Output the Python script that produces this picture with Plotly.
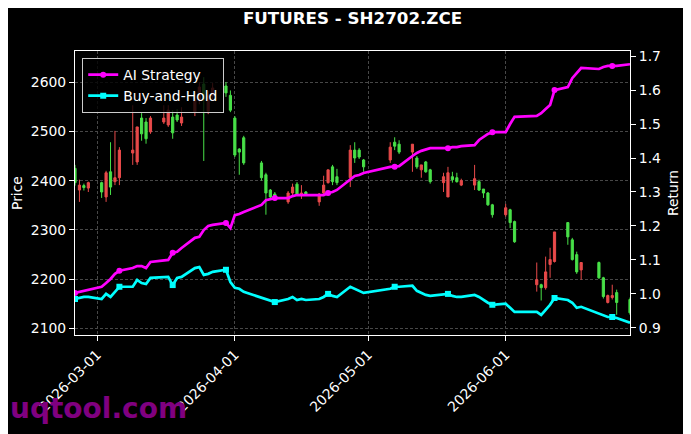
import plotly.graph_objects as go
from plotly.subplots import make_subplots

dates = [
    "2026-02-24", "2026-02-25", "2026-02-26", "2026-02-27",
    "2026-03-02", "2026-03-03", "2026-03-04", "2026-03-05", "2026-03-06",
    "2026-03-09", "2026-03-10", "2026-03-11", "2026-03-12", "2026-03-13",
    "2026-03-16", "2026-03-17", "2026-03-18", "2026-03-19", "2026-03-20",
    "2026-03-23", "2026-03-24", "2026-03-25", "2026-03-26", "2026-03-27",
    "2026-03-30", "2026-03-31", "2026-04-01", "2026-04-02", "2026-04-03",
    "2026-04-07", "2026-04-08", "2026-04-09", "2026-04-10",
    "2026-04-13", "2026-04-14", "2026-04-15", "2026-04-16", "2026-04-17",
    "2026-04-20", "2026-04-21", "2026-04-22", "2026-04-23", "2026-04-24",
    "2026-04-27", "2026-04-28", "2026-04-29", "2026-04-30",
    "2026-05-06", "2026-05-07", "2026-05-08",
    "2026-05-11", "2026-05-12", "2026-05-13", "2026-05-14", "2026-05-15",
    "2026-05-18", "2026-05-19", "2026-05-20", "2026-05-21", "2026-05-22",
    "2026-05-25", "2026-05-26", "2026-05-27", "2026-05-28", "2026-05-29",
    "2026-06-01", "2026-06-02", "2026-06-03",
    "2026-06-08", "2026-06-09", "2026-06-10", "2026-06-11", "2026-06-12",
    "2026-06-15", "2026-06-16", "2026-06-17", "2026-06-18",
    "2026-06-22", "2026-06-23", "2026-06-24", "2026-06-25", "2026-06-26",
    "2026-06-29",
]

open_p = [2425, 2381, 2390, 2385, 2396, 2367, 2418, 2398, 2406, 2456,
          2438, 2527, 2519, 2499, 2519, 2513, 2529, 2533, 2517, 2539,
          2563, 2596, 2541, 2572, 2592, 2573, 2527, 2464, 2487, 2436,
          2412, 2381, 2373, 2357, 2375, 2393, 2371, 2377, 2357, 2375,
          2396, 2428, 2408, 2406, 2462, 2462, 2442, 2442, 2478, 2474,
          2458, 2446, 2422, 2438, 2422, 2396, 2367, 2408, 2406, 2391,
          2391, 2398, 2383, 2375, 2351, 2331, 2341, 2317, 2189, 2189,
          2183, 2230, 2236, 2315, 2280, 2250, 2219, 2234, 2203, 2153,
          2163, 2173, 2159]
high_p = [2432, 2402, 2394, 2398, 2398, 2420, 2478, 2501, 2468, 2553,
          2509, 2537, 2527, 2531, 2553, 2553, 2543, 2545, 2549, 2580,
          2600, 2610, 2582, 2598, 2600, 2583, 2531, 2466, 2491, 2440,
          2416, 2383, 2377, 2379, 2394, 2397, 2391, 2379, 2375, 2410,
          2422, 2432, 2424, 2472, 2478, 2466, 2444, 2478, 2488, 2482,
          2474, 2450, 2432, 2440, 2424, 2416, 2428, 2418, 2416, 2404,
          2432, 2402, 2383, 2377, 2353, 2353, 2343, 2319, 2234, 2191,
          2246, 2264, 2296, 2315, 2284, 2256, 2234, 2236, 2205, 2169,
          2189, 2179, 2163]
low_p = [2390, 2357, 2380, 2377, 2365, 2357, 2371, 2391, 2391, 2432,
         2432, 2481, 2475, 2495, 2515, 2509, 2485, 2519, 2511, 2531,
         2555, 2440, 2535, 2565, 2570, 2539, 2448, 2412, 2432, 2400,
         2331, 2361, 2365, 2353, 2371, 2369, 2363, 2369, 2349, 2369,
         2394, 2391, 2391, 2387, 2436, 2444, 2418, 2436, 2462, 2454,
         2418, 2424, 2406, 2416, 2394, 2377, 2367, 2396, 2396, 2389,
         2381, 2379, 2365, 2349, 2325, 2327, 2304, 2274, 2175, 2157,
         2179, 2203, 2234, 2270, 2238, 2211, 2199, 2201, 2161, 2151,
         2159, 2128, 2128]
close_p = [2396, 2391, 2386, 2396, 2377, 2416, 2387, 2406, 2462, 2462,
           2509, 2495, 2485, 2527, 2527, 2543, 2497, 2523, 2529, 2563,
           2590, 2565, 2572, 2588, 2578, 2543, 2452, 2458, 2436, 2406,
           2375, 2367, 2369, 2375, 2387, 2371, 2375, 2371, 2373, 2391,
           2422, 2398, 2396, 2462, 2446, 2448, 2428, 2468, 2470, 2458,
           2474, 2428, 2432, 2418, 2398, 2408, 2416, 2402, 2398, 2400,
           2404, 2381, 2375, 2351, 2331, 2345, 2315, 2276, 2199, 2183,
           2215, 2240, 2296, 2286, 2240, 2215, 2234, 2203, 2165, 2167,
           2167, 2153, 2132]

ai_strategy = [1.003, 1.006, 1.009, 1.012, 1.021, 1.032, 1.044, 1.059, 1.068, 1.076,
               1.082, 1.082, 1.076, 1.094, 1.097, 1.100, 1.121, 1.124, 1.135, 1.165,
               1.168, 1.188, 1.200, 1.203, 1.209, 1.194, 1.232, 1.235, 1.241, 1.262,
               1.276, 1.279, 1.282, 1.282, 1.288, 1.291, 1.291, 1.291, 1.291, 1.291,
               1.297, 1.300, 1.306, 1.338, 1.347, 1.350, 1.356, 1.374, 1.374, 1.376,
               1.406, 1.415, 1.421, 1.426, 1.429, 1.429, 1.429, 1.432, 1.432, 1.435,
               1.438, 1.453, 1.462, 1.471, 1.476, 1.476, 1.500, 1.521, 1.524, 1.532,
               1.544, 1.556, 1.600, 1.609, 1.635, 1.650, 1.665, 1.662, 1.668, 1.671,
               1.671, 1.671, 1.676]
buy_hold = [0.985, 0.988, 0.991, 0.991, 0.985, 1.000, 0.991, 1.006, 1.021, 1.021,
            1.041, 1.032, 1.029, 1.047, 1.050, 1.050, 1.026, 1.047, 1.050, 1.076,
            1.079, 1.056, 1.059, 1.065, 1.071, 1.035, 1.018, 1.015, 1.006, 0.988,
            0.985, 0.979, 0.976, 0.985, 0.991, 0.982, 0.985, 0.982, 0.985, 0.991,
            1.000, 0.994, 0.991, 1.021, 1.015, 1.009, 1.003, 1.015, 1.021, 1.021,
            1.024, 1.009, 1.003, 0.997, 0.994, 0.997, 1.000, 0.994, 0.991, 0.991,
            0.997, 0.991, 0.982, 0.974, 0.968, 0.971, 0.959, 0.947, 0.947, 0.938,
            0.953, 0.968, 0.988, 0.982, 0.974, 0.959, 0.962, 0.941, 0.935, 0.932,
            0.932, 0.929, 0.915]

price_ticks = [2100, 2200, 2300, 2400, 2500, 2600]
return_ticks = [0.9, 1.0, 1.1, 1.2, 1.3, 1.4, 1.5, 1.6, 1.7]
month_ticks = ["2026-03-01", "2026-04-01", "2026-05-01", "2026-06-01"]
MARK_EVERY = 8

RED = "#e84a4a"
GREEN = "#48e048"
MAGENTA = "#ff00ff"
CYAN = "#00ffff"
FONT = "DejaVu Sans"
GRID = "#474747"

fig = make_subplots(specs=[[{"secondary_y": True}]])

fig.add_trace(go.Candlestick(
    x=dates, open=open_p, high=high_p, low=low_p, close=close_p,
    increasing=dict(line=dict(color=RED, width=1), fillcolor=RED),
    decreasing=dict(line=dict(color=GREEN, width=1), fillcolor=GREEN),
    whiskerwidth=0, showlegend=False, name="Price",
), secondary_y=False)

series = [("AI Strategy", ai_strategy, MAGENTA, "circle"),
          ("Buy-and-Hold", buy_hold, CYAN, "square")]
for name, vals, col, sym in series:
    fig.add_trace(go.Scatter(
        x=dates, y=vals, mode="lines", line=dict(color=col, width=2.7),
        showlegend=False, legendgroup=name, name=name,
    ), secondary_y=True)
    fig.add_trace(go.Scatter(
        x=dates[::MARK_EVERY], y=vals[::MARK_EVERY], mode="markers",
        marker=dict(color=col, size=6, symbol=sym),
        showlegend=False, legendgroup=name, name=name,
    ), secondary_y=True)
for name, vals, col, sym in series:
    fig.add_trace(go.Scatter(
        x=[None], y=[None], mode="lines+markers",
        line=dict(color=col, width=2.7),
        marker=dict(color=col, size=6, symbol=sym),
        showlegend=True, legendgroup=name, name=name,
    ), secondary_y=True)

axis_common = dict(
    showline=True, linecolor="white", linewidth=1.1, mirror=True,
    ticks="outside", ticklen=5, tickwidth=1.1, tickcolor="white",
    tickfont=dict(color="white", size=13.9, family=FONT),
    zeroline=False, automargin=False,
)

fig.update_xaxes(
    type="date", range=[dates[0], dates[-1]], domain=[0, 1],
    rangeslider=dict(visible=False),
    tickmode="array", tickvals=month_ticks, ticktext=month_ticks,
    tickangle=-45,
    showgrid=True, gridcolor=GRID, griddash="3px,2px", gridwidth=0.8,
    **axis_common,
)
fig.update_yaxes(
    range=[2087, 2663], tickmode="array", tickvals=price_ticks,
    ticktext=[str(v) for v in price_ticks],
    showgrid=True, gridcolor=GRID, griddash="3px,2px", gridwidth=0.8,
    secondary_y=False, **axis_common,
)
fig.update_yaxes(
    range=[0.879, 1.715], tickmode="array", tickvals=return_ticks,
    ticktext=[f"{v:.1f}" for v in return_ticks],
    showgrid=False, secondary_y=True, **axis_common,
)

# the page adds an 8px body offset, so the figure is 8px smaller
W, H = 683, 426
fig.update_layout(
    width=W, height=H,
    margin=dict(l=67, r=61, t=43, b=99, autoexpand=False),
    paper_bgcolor="black", plot_bgcolor="black",
    font=dict(family=FONT, color="white", size=13.9),
    title=dict(text="<b>FUTURES - SH2702.ZCE</b>", x=0.5, xref="paper",
               xanchor="center", y=1 - 10 / H, yanchor="middle",
               font=dict(size=16.7, family=FONT, color="white")),
    legend=dict(x=0.013, y=0.975, xanchor="left", yanchor="top",
                bgcolor="rgba(0,0,0,0.8)", bordercolor="#cccccc", borderwidth=1,
                font=dict(size=13.9, family=FONT, color="white"),
                tracegroupgap=0),
    annotations=[
        dict(text="Price", x=(17 - 75) / 555, y=0.5, xref="paper", yref="paper",
             textangle=-90, showarrow=False, xanchor="center", yanchor="middle",
             font=dict(size=13.9, family=FONT, color="white")),
        dict(text="Return", x=(673 - 75) / 555, y=0.5, xref="paper", yref="paper",
             textangle=-90, showarrow=False, xanchor="center", yanchor="middle",
             font=dict(size=13.9, family=FONT, color="white")),
        dict(text="<b>uqtool.com</b>", x=(8 - 75) / 555, y=(335 - 409) / 284,
             xref="paper", yref="paper", showarrow=False,
             xanchor="left", yanchor="middle",
             font=dict(size=28, family=FONT, color="#800080")),
    ],
)

fig.write_html("out.html")
